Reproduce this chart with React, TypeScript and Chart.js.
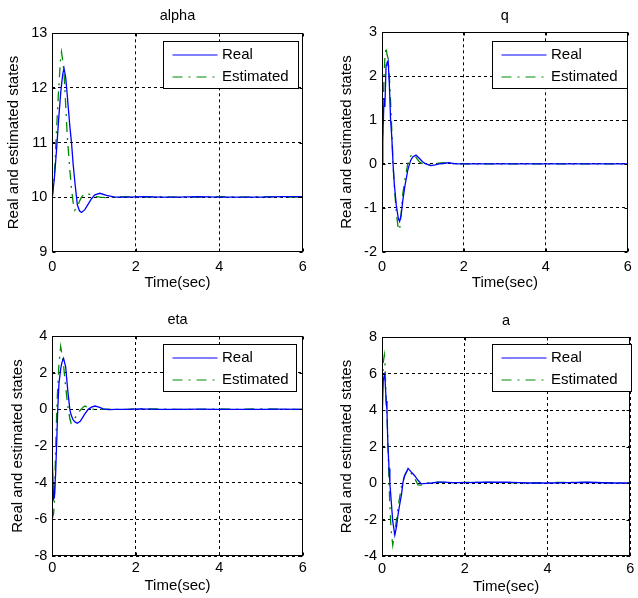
import React, { useEffect, useRef } from 'react';
import { Chart, registerables } from 'chart.js';

Chart.register(...registerables);

// ---------- data ----------
const seriesLabels = ['Real', 'Estimated'];
const xLabel = 'Time(sec)';
const yLabel = 'Real and estimated states';
const xTicks = [0, 2, 4, 6];

const alphaTime = [0, 0.05, 0.1, 0.15, 0.2, 0.22, 0.25, 0.28, 0.32, 0.36, 0.42, 0.46, 0.5, 0.54, 0.6, 0.65, 0.7, 0.78, 0.86, 0.94, 1.02, 1.14, 1.3, 1.5, 1.8, 2.2, 2.6, 3, 3.5, 4, 4.5, 5, 5.5, 6];
const alphaReal = [10.0, 10.35, 10.85, 11.4, 11.9, 12.05, 12.25, 12.36, 12.2, 11.85, 11.3, 11.0, 10.6, 10.28, 9.86, 9.75, 9.72, 9.77, 9.87, 9.97, 10.04, 10.07, 10.03, 10.0, 10.0, 10.01, 10.0, 10.0, 10.01, 10.0, 10.0, 10.0, 10.01, 10.01];
const alphaEst = [10.0, 10.4, 11.2, 11.95, 12.55, 12.66, 12.5, 12.3, 11.7, 11.1, 10.5, 10.15, 9.9, 9.76, 9.82, 9.92, 10.0, 10.07, 10.06, 10.03, 10.01, 10.0, 9.99, 10.0, 10.01, 10.0, 10.01, 10.0, 10.0, 10.01, 10.0, 10.01, 10.0, 10.0];
const alphaTicks = [9, 10, 11, 12, 13];

const qTime = [0, 0.02, 0.05, 0.07, 0.1, 0.12, 0.15, 0.18, 0.21, 0.24, 0.27, 0.3, 0.35, 0.4, 0.43, 0.47, 0.51, 0.56, 0.63, 0.7, 0.75, 0.83, 0.91, 0.99, 1.07, 1.19, 1.3, 1.39, 1.5, 1.63, 1.8, 2, 2.5, 3, 3.5, 4, 4.5, 5, 5.5, 6];
const qReal = [0, 0.6, 1.5, 1.3, 2.25, 2.3, 2.35, 1.8, 1.0, 0.6, 0.0, -0.45, -0.95, -1.25, -1.31, -1.15, -0.82, -0.5, -0.14, 0.08, 0.16, 0.2, 0.13, 0.05, 0.0, -0.04, -0.02, 0.0, 0.01, 0.03, 0.0, 0, 0, 0, 0, 0, 0, 0, 0, 0];
const qEst = [0, 0.9, 2.0, 2.4, 2.67, 2.5, 2.4, 2.0, 1.4, 0.75, 0.0, -0.5, -1.12, -1.5, -1.5, -1.1, -0.67, -0.35, 0.0, 0.18, 0.23, 0.15, 0.05, 0.0, -0.02, -0.01, 0.0, 0.02, 0.03, 0.01, 0.0, 0, 0, 0, 0, 0, 0, 0, 0, 0];
const qTicks = [-2, -1, 0, 1, 2, 3];

const etaTime = [0, 0.03, 0.05, 0.08, 0.11, 0.13, 0.16, 0.2, 0.23, 0.27, 0.32, 0.37, 0.42, 0.45, 0.5, 0.55, 0.6, 0.67, 0.74, 0.78, 0.86, 0.94, 1.02, 1.12, 1.22, 1.35, 1.5, 1.8, 2.1, 2.5, 3, 3.5, 4, 4.5, 5, 5.5, 6];
const etaReal = [-2.8, -4.9, -4.8, -3.5, -1.5, 0.0, 1.42, 2.2, 2.55, 2.78, 2.32, 1.05, 0.0, -0.3, -0.58, -0.7, -0.76, -0.65, -0.4, -0.25, 0.0, 0.12, 0.18, 0.12, 0.02, -0.02, 0, 0, 0.02, 0, 0, 0.01, 0, 0, 0, 0.01, 0];
const etaEst = [-5.95, -5.7, -5.13, -2.2, 0.14, 1.2, 2.5, 3.42, 3.0, 2.4, 1.23, 0.2, -0.5, -0.76, -0.65, -0.45, -0.25, -0.05, 0.12, 0.18, 0.1, 0.02, 0, -0.01, 0, 0.01, 0, 0, 0.04, 0.02, 0, 0, 0.02, 0, 0.03, 0, 0];
const etaTicks = [-8, -6, -4, -2, 0, 2, 4];

const aTime = [0, 0.01, 0.03, 0.056, 0.075, 0.1, 0.12, 0.14, 0.17, 0.19, 0.22, 0.26, 0.31, 0.35, 0.39, 0.43, 0.47, 0.51, 0.55, 0.63, 0.7, 0.79, 0.87, 0.95, 1.07, 1.2, 1.35, 1.5, 1.7, 2, 2.5, 3, 3.3, 3.6, 4, 4.5, 5, 5.5, 6];
const aReal = [0, 4.0, 5.64, 5.9, 5.6, 4.5, 4.0, 2.2, 0.8, 0.0, -0.9, -2.1, -2.85, -2.4, -1.7, -1.15, -0.65, 0.07, 0.4, 0.8, 0.62, 0.4, 0.15, -0.05, -0.02, 0.0, 0.05, 0.05, 0.02, 0.02, 0.04, 0.04, 0.02, 0, 0, 0.02, 0.04, 0, 0];
const aEst = [0, 5.0, 6.6, 7.0, 6.4, 4.5, 3.8, 2.45, 0.0, -1.2, -2.58, -3.4, -2.67, -2.0, -1.3, -0.75, -0.2, 0.15, 0.44, 0.75, 0.55, 0.25, -0.1, -0.12, 0.0, 0.0, 0.04, 0.03, 0.02, 0.03, 0.03, 0.02, 0.0, 0, 0.02, 0.04, 0.03, 0.02, 0];
const aTicks = [-4, -2, 0, 2, 4, 6, 8];

// ---------- layout / style ----------
const FONT = "'Liberation Sans', Arial, Helvetica, sans-serif";
const CW = 319;
const CH = 299;
const TITLE_SIZE = 14.5;
const LABEL_SIZE = 15;
const TICK_SIZE = 14.5;
const SERIES_COLORS = ['#0000ff', '#008a00'];
const SERIES_DASH: number[][] = [[], [10, 6, 2, 6]];
const LINE_W = 1.3;

type Panel = {
  title: string; time: number[]; real: number[]; est: number[]; yTicks: number[];
  left: number; top: number;
  area: { l: number; r: number; t: number; b: number };
  titleY: number; yTitleX: number; xTitleY: number; xTickY: number;
  legendDX: number; legendDY: number; legendW: number;
};

const panels: Panel[] = [
  { title: 'alpha', time: alphaTime, real: alphaReal, est: alphaEst, yTicks: alphaTicks, left: 0, top: 0,
    area: { l: 52.3, r: 302.7, t: 33.3, b: 251.7 }, titleY: 15.5, yTitleX: 14, xTitleY: 283.3, xTickY: 266.7,
    legendDX: 110.4, legendDY: 8, legendW: 135 },
  { title: 'q', time: qTime, real: qReal, est: qEst, yTicks: qTicks, left: 319, top: 0,
    area: { l: 63, r: 313, t: 32.3, b: 251.7 }, titleY: 15.5, yTitleX: 28, xTitleY: 283.3, xTickY: 266.7,
    legendDX: 110, legendDY: 8.7, legendW: 135.3 },
  { title: 'eta', time: etaTime, real: etaReal, est: etaEst, yTicks: etaTicks, left: 0, top: 299,
    area: { l: 52.3, r: 302.7, t: 37, b: 257 }, titleY: 21, yTitleX: 18, xTitleY: 287, xTickY: 269.3,
    legendDX: 111, legendDY: 8.3, legendW: 132.7 },
  { title: 'a', time: aTime, real: aReal, est: aEst, yTicks: aTicks, left: 319, top: 299,
    area: { l: 63, r: 313, t: 38, b: 257 }, titleY: 21.5, yTitleX: 28, xTitleY: 287.5, xTickY: 269.5,
    legendDX: 110, legendDY: 7.3, legendW: 139 },
];

function makeFramePlugin(p: Panel) {
  return {
    id: 'frameLegend',
    afterDatasetsDraw(chart: any) {
      const { ctx, chartArea: a } = chart;
      const xs = chart.scales.x;
      const ys = chart.scales.y;
      const L = Math.round(a.left) + 0.5;
      const R = Math.round(a.right) - 0.5;
      const T = Math.round(a.top) + 0.5;
      const B = Math.round(a.bottom) - 0.5;
      ctx.save();
      ctx.setLineDash([]);
      ctx.strokeStyle = '#000';
      ctx.lineWidth = 1;
      ctx.beginPath();
      xs.ticks.forEach((t: any) => {
        const px = Math.round(xs.getPixelForValue(t.value)) + 0.5;
        ctx.moveTo(px, B); ctx.lineTo(px, B - 3);
        ctx.moveTo(px, T); ctx.lineTo(px, T + 3);
      });
      ys.ticks.forEach((t: any) => {
        const py = Math.round(ys.getPixelForValue(t.value)) + 0.5;
        ctx.moveTo(L, py); ctx.lineTo(L + 3, py);
        ctx.moveTo(R, py); ctx.lineTo(R - 3, py);
      });
      ctx.stroke();
      ctx.strokeRect(L, T, R - L, B - T);

      // legend box
      const bx = Math.round(a.left + p.legendDX) + 0.5;
      const by = Math.round(a.top + p.legendDY) + 0.5;
      const bw = Math.round(p.legendW);
      const bh = 47;
      ctx.fillStyle = '#fff';
      ctx.fillRect(bx, by, bw, bh);
      ctx.strokeStyle = '#000';
      ctx.lineWidth = 1;
      ctx.strokeRect(bx, by, bw, bh);
      const rows = [13.3, 35.5];
      chart.data.datasets.forEach((ds: any, i: number) => {
        const y = Math.round(by + rows[i]);
        ctx.save();
        ctx.strokeStyle = SERIES_COLORS[i];
        ctx.lineWidth = 1.2;
        ctx.setLineDash(SERIES_DASH[i]);
        ctx.beginPath();
        ctx.moveTo(bx + 9, y);
        ctx.lineTo(bx + 54, y);
        ctx.stroke();
        ctx.restore();
        ctx.fillStyle = '#000';
        ctx.font = `${LABEL_SIZE}px ${FONT}`;
        ctx.textBaseline = 'middle';
        ctx.textAlign = 'left';
        ctx.fillText(ds.label, bx + 58.5, y);
      });
      ctx.restore();
    },
  };
}

function makeConfig(p: Panel): any {
  const titleLH = TITLE_SIZE * 1.2;
  const labelLH = LABEL_SIZE * 1.2;
  const tickLH = TICK_SIZE * 1.2;
  const titleTop = p.titleY - titleLH / 2;
  const titleBottom = p.area.t - titleTop - titleLH;
  const xScaleH = CH - p.area.b;
  const values = [p.real, p.est];
  return {
    type: 'line',
    data: {
      datasets: values.map((vals, k) => ({
        label: seriesLabels[k],
        data: p.time.map((t, i) => ({ x: t, y: vals[i] })),
        borderColor: SERIES_COLORS[k],
        borderWidth: LINE_W,
        borderDash: SERIES_DASH[k],
        pointRadius: 0,
        tension: 0,
        fill: false,
      })),
    },
    options: {
      responsive: false,
      animation: false,
      devicePixelRatio: 1,
      layout: { padding: { left: 0, top: 0, bottom: 0, right: CW - p.area.r } },
      plugins: {
        legend: { display: false },
        tooltip: { enabled: false },
        title: {
          display: true,
          text: p.title,
          fullSize: false,
          color: '#000',
          font: { family: FONT, size: TITLE_SIZE, weight: 'normal', lineHeight: 1.2 },
          padding: { top: titleTop, bottom: titleBottom },
        },
      },
      scales: {
        x: {
          type: 'linear',
          min: xTicks[0],
          max: xTicks[xTicks.length - 1],
          afterBuildTicks: (s: any) => { s.ticks = xTicks.map((v) => ({ value: v })); },
          afterFit: (s: any) => { s.height = xScaleH; },
          grid: { color: '#000', lineWidth: 1, drawTicks: false },
          border: { display: false, dash: [3, 3] },
          ticks: {
            color: '#000',
            font: { family: FONT, size: TICK_SIZE, lineHeight: 1.2 },
            padding: p.xTickY - p.area.b - tickLH / 2,
            maxRotation: 0,
          },
          title: {
            display: true,
            text: xLabel,
            color: '#000',
            font: { family: FONT, size: LABEL_SIZE, lineHeight: 1.2 },
            padding: { top: 0, bottom: CH - p.xTitleY - labelLH / 2 },
          },
        },
        y: {
          type: 'linear',
          min: p.yTicks[0],
          max: p.yTicks[p.yTicks.length - 1],
          afterBuildTicks: (s: any) => { s.ticks = p.yTicks.map((v) => ({ value: v })); },
          afterFit: (s: any) => { s.width = p.area.l; },
          grid: { color: '#000', lineWidth: 1, drawTicks: false },
          border: { display: false, dash: [3, 3] },
          ticks: {
            color: '#000',
            font: { family: FONT, size: TICK_SIZE, lineHeight: 1.2 },
            padding: 5,
          },
          title: {
            display: true,
            text: yLabel,
            color: '#000',
            font: { family: FONT, size: LABEL_SIZE, lineHeight: 1.2 },
            padding: { top: p.yTitleX - labelLH / 2, bottom: 0 },
          },
        },
      },
    },
    plugins: [makeFramePlugin(p)],
  };
}

export default function App() {
  const refs = useRef<(HTMLCanvasElement | null)[]>([]);
  useEffect(() => {
    const charts = panels.map((p, i) => new Chart(refs.current[i] as HTMLCanvasElement, makeConfig(p)));
    return () => charts.forEach((c) => c.destroy());
  }, []);
  return (
    <div style={{ position: 'absolute', left: 0, top: 0, width: 638, height: 598, background: '#fff' }}>
      {panels.map((p, i) => (
        <canvas
          key={p.title}
          ref={(el) => { refs.current[i] = el; }}
          width={CW}
          height={CH}
          style={{ position: 'absolute', left: p.left, top: p.top, width: CW, height: CH, display: 'block' }}
        />
      ))}
    </div>
  );
}
